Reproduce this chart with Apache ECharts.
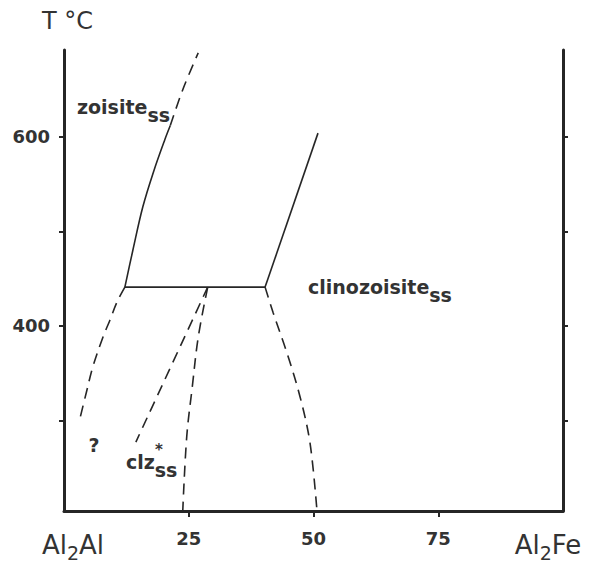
<!DOCTYPE html>
<html>
<head>
<meta charset="utf-8">
<script src="https://cdn.jsdelivr.net/npm/echarts@6/dist/echarts.min.js"></script>
<style>
html,body{margin:0;padding:0;background:#fff;}
#chart{width:591px;height:564px;}
</style>
</head>
<body>
<div id="chart"></div>
<script>
// ---- data (x: mol % Al2Fe, y: T °C) ----
const xTickValues = [25, 50, 75];
const xLabelValues = [0, 25, 50, 75, 100];
const xLabelTexts = ['Al2Al', '25', '50', '75', 'Al2Fe'];
const yTickValues = [300, 400, 500, 600];
const yLabelValues = [400, 600];

const invariantLine = [[12.2, 441], [40.3, 441]];
const zoisiteSolid = [[12.2, 441], [13.8, 480], [15.8, 526], [18.0, 564], [20.2, 597], [21.3, 612]];
const zoisiteDashed = [[21.3, 612], [23.8, 650], [26.9, 689]];
const zoisiteLowDashed = [[12.2, 441], [10.6, 425], [9.2, 406], [7.8, 388], [5.8, 357], [4.5, 330], [3.2, 302]];
const clzLeftDashed = [[28.8, 441], [14.4, 277]];
const clzRightDashed = [[28.8, 441], [26.9, 388], [25.7, 335], [24.6, 283], [23.8, 204]];
const clinoSolid = [[40.3, 441], [50.9, 604]];
const clinoDashed = [[40.3, 441], [41.9, 414], [44.7, 371], [47.3, 325], [49.3, 276], [50.7, 204]];

const annotations = [
  [2.6, 632, '{m|zoisite}{s|ss}', 'left'],
  [48.9, 441, '{m|clinozoisite}{s|ss}', 'left'],
  [12.4, 257, '{st|*}\n{m|clz}{s|ss}', 'left'],
  [6.0, 274, '{m|?}', 'center']
];

const ink = '#262626';
const txt = '#333';
const FONT = 'DejaVu Sans';

function lineSeries(data, dashed) {
  return {
    type: 'line', data: data, showSymbol: false, symbol: 'none', silent: true,
    animation: false, smooth: 0.35,
    lineStyle: { color: ink, width: 1.6, type: dashed ? [11, 7] : 'solid', cap: 'butt' },
    z: 3
  };
}

const chart = echarts.init(document.getElementById('chart'), null, { renderer: 'svg' });
chart.setOption({
  animation: false,
  backgroundColor: '#ffffff',
  title: {
    text: 'T °C', left: 37, top: 4,
    textStyle: { fontFamily: FONT, fontSize: 24, fontWeight: 'normal', color: txt }
  },
  grid: { left: 64, right: 28, top: 50, bottom: 53, containLabel: false, outerBoundsMode: 'none' },
  xAxis: {
    type: 'value', min: 0, max: 100,
    axisLine: { show: true, onZero: false, lineStyle: { color: ink, width: 3 } },
    axisTick: { show: true, customValues: xTickValues, length: 6, lineStyle: { color: ink, width: 2 } },
    axisLabel: {
      customValues: xLabelValues, margin: 16, showMinLabel: true, showMaxLabel: true,
      formatter: function (v) {
        const t = xLabelTexts[xLabelValues.indexOf(v)];
        if (t === 'Al2Al') return '{elL|Al}{sub|2}{el|Al}';
        if (t === 'Al2Fe') return '{el|Al}{sub|2}{elR|Fe}';
        return '{n|' + t + '}';
      },
      rich: {
        n: { fontFamily: FONT, fontSize: 18, fontWeight: 'bold', color: txt, padding: [2, 0, 0, 0] },
        el: { fontFamily: FONT, fontSize: 26, color: txt },
        elL: { fontFamily: FONT, fontSize: 26, color: txt, padding: [0, 0, 0, 18] },
        elR: { fontFamily: FONT, fontSize: 26, color: txt, padding: [0, 30, 0, 0] },
        sub: { fontFamily: FONT, fontSize: 19, color: txt, padding: [16, 0, 0, 0] }
      }
    },
    splitLine: { show: false }
  },
  yAxis: [{
    type: 'value', min: 204, max: 692, position: 'left',
    axisLine: { show: true, lineStyle: { color: ink, width: 3 } },
    axisTick: { show: true, customValues: yTickValues, length: 5, lineStyle: { color: ink, width: 2 } },
    axisLabel: {
      customValues: yLabelValues, margin: 14,
      fontFamily: FONT, fontSize: 18, fontWeight: 'bold', color: txt
    },
    splitLine: { show: false }
  }, {
    type: 'value', min: 204, max: 692, position: 'right',
    axisLine: { show: true, lineStyle: { color: ink, width: 3 } },
    axisTick: { show: true, customValues: yTickValues, length: 5, lineStyle: { color: ink, width: 2 } },
    axisLabel: { show: false },
    splitLine: { show: false }
  }],
  series: [
    lineSeries(invariantLine, false),
    lineSeries(zoisiteSolid, false),
    lineSeries(zoisiteDashed, true),
    lineSeries(zoisiteLowDashed, true),
    lineSeries(clzLeftDashed, true),
    lineSeries(clzRightDashed, true),
    lineSeries(clinoSolid, false),
    lineSeries(clinoDashed, true),
    {
      type: 'custom', silent: true, animation: false, z: 5,
      data: annotations.map(function (a) { return [a[0], a[1]]; }),
      renderItem: function (params, api) {
        const p = api.coord([api.value(0), api.value(1)]);
        const item = annotations[params.dataIndex];
        const multi = item[2].indexOf('\n') >= 0;
        return {
          type: 'text', x: p[0], y: p[1],
          style: {
            text: item[2],
            align: item[3],
            verticalAlign: 'middle',
            rich: multi ? {
              m: { fontFamily: FONT, fontSize: 19, fontWeight: 'bold', fill: txt, lineHeight: 22 },
              s: { fontFamily: FONT, fontSize: 19, fontWeight: 'bold', fill: txt, lineHeight: 22, padding: [16, 0, 0, 0] },
              st: { fontFamily: FONT, fontSize: 15, fontWeight: 'bold', fill: txt, lineHeight: 2, padding: [0, 0, 0, 29] }
            } : {
              m: { fontFamily: FONT, fontSize: 19, fontWeight: 'bold', fill: txt },
              s: { fontFamily: FONT, fontSize: 19, fontWeight: 'bold', fill: txt, padding: [16, 0, 0, 0] }
            }
          }
        };
      }
    }
  ]
});
</script>
</body>
</html>
